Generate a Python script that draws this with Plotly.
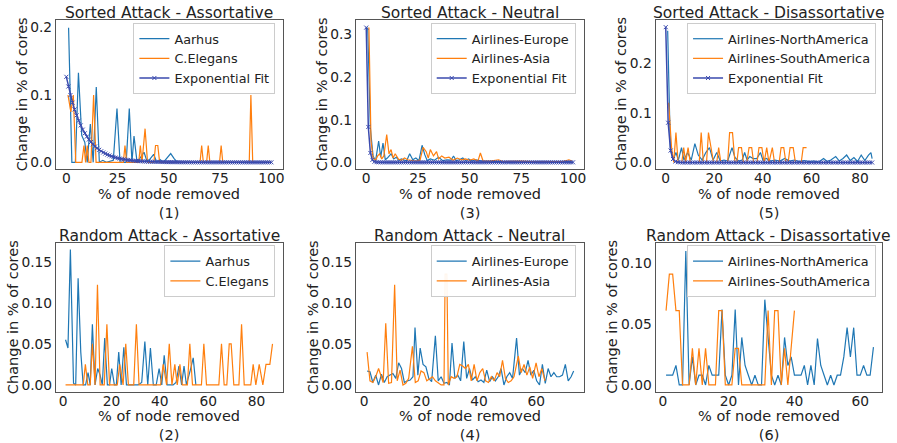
import plotly.graph_objects as go

# ---------------- data ----------------
# Panel (1): Sorted attack - assortative
aarhus_sorted = [(1.1, 0.2), (2.7, 0.0), (4.4, 0.0), (5.9, 0.133), (7.5, 0.04), (9.0, 0.03), (10.2, 0.0),
                 (11.7, 0.057), (13.1, 0.0), (14.6, 0.112), (16.1, 0.0), (17.8, 0.003), (19.5, 0.0),
                 (22.9, 0.003), (24.7, 0.08), (26.2, 0.0), (29.2, 0.0), (30.7, 0.08), (32.0, 0.0),
                 (33.0, 0.039), (34.5, 0.0), (36.1, 0.008), (37.9, 0.015), (39.5, 0.0), (42.6, 0.012),
                 (44.1, 0.0), (45.7, 0.004), (47.3, 0.0), (50.9, 0.013), (52.5, 0.006), (54.1, 0.0), (99.0, 0.0)]
elegans_sorted = [(0.8, 0.1), (2.2, 0.075), (3.4, 0.1), (4.6, 0.0), (7.6, 0.0), (8.6, 0.025), (9.4, 0.0),
                  (10.2, 0.025), (11.0, 0.0), (12.0, 0.0), (13.3, 0.1), (14.5, 0.0), (27.8, 0.0), (28.6, 0.025),
                  (29.4, 0.0), (35.3, 0.0), (36.1, 0.025), (36.9, 0.0), (38.4, 0.05), (39.6, 0.0), (42.7, 0.0),
                  (43.5, 0.025), (44.6, 0.025), (45.5, 0.0), (65.2, 0.0), (66.0, 0.025), (66.8, 0.0), (68.4, 0.0),
                  (69.2, 0.025), (70.0, 0.0), (74.7, 0.0), (75.5, 0.025), (76.3, 0.0), (89.2, 0.0), (90.0, 0.1),
                  (90.9, 0.0), (100.0, 0.0)]
fit_assort_x = list(range(0, 101))
fit_assort_y = [0.1270, 0.1126, 0.0999, 0.0886, 0.0786, 0.0697, 0.0618, 0.0548, 0.0486, 0.0431,
                0.0382, 0.0339, 0.0301, 0.0267, 0.0236, 0.0210, 0.0186, 0.0165, 0.0146, 0.0130,
                0.0115, 0.0102, 0.0090, 0.0080, 0.0071, 0.0063, 0.0056, 0.0050, 0.0044, 0.0039,
                0.0035, 0.0031, 0.0027, 0.0024, 0.0021, 0.0019, 0.0017, 0.0015, 0.0013, 0.0012,
                0.0010, 0.0009, 0.0008, 0.0007, 0.0006, 0.0006, 0.0005, 0.0004, 0.0004, 0.0003,
                0.0003, 0.0003, 0.0002, 0.0002, 0.0002, 0.0002, 0.0001, 0.0001, 0.0001, 0.0001,
                0.0001, 0, 0, 0, 0, 0, 0, 0, 0, 0,
                0, 0, 0, 0, 0, 0, 0, 0, 0, 0,
                0, 0, 0, 0, 0, 0, 0, 0, 0, 0,
                0, 0, 0, 0, 0, 0, 0, 0, 0, 0,
                0]

# Panel (3): Sorted attack - neutral
europe_sorted = [(0.7, 0.316), (2.0, 0.08), (3.3, 0.015), (4.5, 0.003), (6.0, 0.05), (7.0, 0.012), (8.1, 0.045),
                 (9.2, 0.006), (10.2, 0.01), (12.0, 0.02), (13.3, 0.008), (14.5, 0.012), (15.7, 0.005),
                 (17.0, 0.008), (19.5, 0.003), (21.0, 0.02), (22.5, 0.006), (24.0, 0.01), (25.5, 0.004),
                 (27.0, 0.04), (28.3, 0.018), (29.5, 0.004), (31.0, 0.008), (33.0, 0.005), (35.0, 0.012),
                 (37.0, 0.004), (39.0, 0.006), (41.0, 0.005), (42.2, 0.015), (43.5, 0.004), (45.0, 0.006),
                 (46.7, 0.01), (48.0, 0.004), (49.5, 0.008), (51.0, 0.003), (53.0, 0.006), (56.0, 0.003),
                 (60.0, 0.002), (65.0, 0.002), (70.0, 0.001), (75.0, 0.002), (80.0, 0.001), (85.0, 0.002),
                 (90.0, 0.001), (95.0, 0.002), (99.0, 0.002)]
asia_sorted = [(1.3, 0.316), (2.3, 0.05), (3.3, 0.01), (4.5, 0.005), (5.5, 0.015), (6.5, 0.02), (7.5, 0.008),
               (8.5, 0.015), (9.9, 0.065), (11.0, 0.02), (12.0, 0.03), (13.0, 0.01), (14.0, 0.02), (15.5, 0.008),
               (17.0, 0.005), (18.5, 0.01), (20.0, 0.006), (22.0, 0.004), (24.0, 0.003), (26.0, 0.005),
               (27.5, 0.035), (29.0, 0.025), (30.0, 0.01), (31.0, 0.03), (32.5, 0.015), (34.0, 0.025),
               (35.0, 0.008), (36.5, 0.015), (38.0, 0.01), (40.0, 0.012), (42.0, 0.005), (44.0, 0.01),
               (46.0, 0.006), (48.0, 0.008), (50.0, 0.005), (52.0, 0.008), (54.0, 0.003), (55.2, 0.022),
               (56.5, 0.003), (60.0, 0.003), (64.0, 0.006), (66.0, 0.002), (70.0, 0.003), (75.0, 0.003),
               (80.0, 0.002), (85.0, 0.002), (90.0, 0.003), (95.0, 0.002), (98.0, 0.006), (99.5, 0.003)]
fit_neutral_x = list(range(0, 101))
fit_neutral_y = [0.316, 0.083, 0.022, 0.0058, 0.0015, 0.0004, 0.0001, 0, 0, 0,
                 0, 0, 0, 0, 0, 0, 0, 0, 0, 0,
                 0, 0, 0, 0, 0, 0, 0, 0, 0, 0,
                 0, 0, 0, 0, 0, 0, 0, 0, 0, 0,
                 0, 0, 0, 0, 0, 0, 0, 0, 0, 0,
                 0, 0, 0, 0, 0, 0, 0, 0, 0, 0,
                 0, 0, 0, 0, 0, 0, 0, 0, 0, 0,
                 0, 0, 0, 0, 0, 0, 0, 0, 0, 0,
                 0, 0, 0, 0, 0, 0, 0, 0, 0, 0,
                 0, 0, 0, 0, 0, 0, 0, 0, 0, 0,
                 0]

# Panel (5): Sorted attack - disassortative
namerica_sorted = [(0.8, 0.265), (1.9, 0.03), (3.0, 0.005), (4.2, 0.02), (5.2, 0.005), (6.5, 0.03), (7.5, 0.005),
                   (9.0, 0.02), (10.5, 0.005), (12.0, 0.038), (13.4, 0.015), (15.0, 0.005), (16.5, 0.02),
                   (18.0, 0.03), (19.5, 0.005), (21.0, 0.02), (22.5, 0.003), (24.0, 0.005), (25.5, 0.003),
                   (27.3, 0.03), (28.5, 0.01), (30.0, 0.003), (31.5, 0.005), (32.5, 0.02), (33.5, 0.005),
                   (34.6, 0.012), (36.0, 0.008), (37.5, 0.008), (39.0, 0.02), (40.0, 0.005), (41.5, 0.008),
                   (43.0, 0.003), (45.0, 0.005), (47.0, 0.003), (49.0, 0.008), (51.0, 0.003), (53.0, 0.005),
                   (55.0, 0.002), (57.0, 0.004), (59.0, 0.002), (61.0, 0.003), (63.0, 0.001), (65.0, 0.008),
                   (66.5, 0.002), (68.0, 0.005), (70.0, 0.012), (71.5, 0.003), (73.0, 0.008), (74.5, 0.015),
                   (76.0, 0.004), (77.5, 0.01), (79.0, 0.002), (80.5, 0.015), (82.0, 0.004), (83.5, 0.015),
                   (84.5, 0.02), (85.0, 0.008)]
samerica_sorted = [(1.2, 0.12), (2.4, 0.03), (3.3, 0.0), (4.2, 0.06), (5.1, 0.0), (6.6, 0.0), (7.4, 0.03),
                   (8.2, 0.0), (9.2, 0.03), (10.1, 0.0), (13.8, 0.0), (14.6, 0.06), (15.5, 0.0), (16.8, 0.0),
                   (17.6, 0.06), (18.8, 0.03), (19.7, 0.0), (21.0, 0.0), (21.8, 0.03), (22.7, 0.0), (25.5, 0.0),
                   (26.3, 0.06), (27.5, 0.06), (28.5, 0.0), (29.3, 0.0), (30.0, 0.03), (31.2, 0.03), (32.0, 0.0),
                   (33.4, 0.0), (34.3, 0.03), (35.4, 0.03), (36.2, 0.0), (37.6, 0.0), (38.4, 0.03), (39.6, 0.03),
                   (40.5, 0.0), (41.6, 0.03), (42.5, 0.0), (43.9, 0.03), (44.8, 0.0), (46.7, 0.0), (47.5, 0.03),
                   (48.6, 0.03), (49.5, 0.0), (50.4, 0.0), (51.2, 0.03), (52.5, 0.03), (53.4, 0.0), (55.8, 0.0),
                   (56.6, 0.03), (58.0, 0.03)]
fit_disassort_x = list(range(0, 86))
fit_disassort_y = [0.272, 0.080, 0.024, 0.007, 0.002, 0.0006, 0.0002, 0, 0, 0,
                   0, 0, 0, 0, 0, 0, 0, 0, 0, 0,
                   0, 0, 0, 0, 0, 0, 0, 0, 0, 0,
                   0, 0, 0, 0, 0, 0, 0, 0, 0, 0,
                   0, 0, 0, 0, 0, 0, 0, 0, 0, 0,
                   0, 0, 0, 0, 0, 0, 0, 0, 0, 0,
                   0, 0, 0, 0, 0, 0, 0, 0, 0, 0,
                   0, 0, 0, 0, 0, 0, 0, 0, 0, 0,
                   0, 0, 0, 0, 0, 0]

# Panel (2): Random attack - assortative
aarhus_random = [(1.0, 0.055), (2.0, 0.045), (3.0, 0.165), (4.3, 0.002), (5.2, 0.0), (6.2, 0.13), (7.3, 0.04),
                 (8.3, 0.0), (9.3, 0.0), (10.3, 0.015), (11.2, 0.0), (12.1, 0.074), (13.2, 0.0), (14.3, 0.02),
                 (15.3, 0.012), (16.2, 0.0), (17.2, 0.057), (18.3, 0.0), (19.2, 0.0), (20.1, 0.02), (21.2, 0.0),
                 (22.0, 0.0), (23.0, 0.04), (24.0, 0.0), (25.1, 0.046), (26.2, 0.0), (27.5, 0.0), (29.0, 0.0),
                 (31.0, 0.0), (32.5, 0.003), (33.8, 0.053), (35.0, 0.0), (36.1, 0.045), (37.3, 0.0), (38.5, 0.0),
                 (39.7, 0.02), (40.8, 0.0), (41.8, 0.036), (43.0, 0.0), (45.5, 0.0), (46.7, 0.003), (47.9, 0.023),
                 (49.0, 0.0), (50.0, 0.023), (51.0, 0.0), (52.6, 0.018), (53.8, 0.033), (54.9, 0.0)]
elegans_random = [(1.0, 0.0), (8.3, 0.0), (9.2, 0.025), (10.2, 0.0), (11.2, 0.0), (12.1, 0.05), (13.2, 0.0),
                  (14.2, 0.122), (15.3, 0.0), (17.0, 0.0), (18.1, 0.074), (19.2, 0.0), (22.4, 0.0), (23.4, 0.025),
                  (24.8, 0.0), (25.9, 0.05), (27.0, 0.0), (29.2, 0.0), (30.3, 0.074), (31.4, 0.0), (40.3, 0.0),
                  (41.4, 0.025), (42.8, 0.0), (43.9, 0.05), (45.0, 0.0), (46.2, 0.025), (47.2, 0.0), (48.3, 0.025),
                  (49.3, 0.0), (51.4, 0.0), (52.4, 0.05), (53.5, 0.0), (57.2, 0.0), (58.2, 0.05), (59.3, 0.0),
                  (64.4, 0.0), (65.5, 0.05), (66.6, 0.0), (67.7, 0.0), (68.7, 0.05), (69.5, 0.05), (70.6, 0.0),
                  (72.7, 0.0), (73.8, 0.074), (74.9, 0.0), (77.6, 0.0), (78.6, 0.025), (79.7, 0.0), (81.1, 0.025),
                  (82.6, 0.0), (83.9, 0.025), (85.5, 0.025), (86.6, 0.05)]

# Panel (4): Random attack - neutral
europe_random = [(1, 0.017), (2, 0.016), (3, 0.003), (4, 0.012), (5, 0.0), (6, 0.013), (7, 0.003), (8, 0.010),
                 (9, 0.012), (10, 0.014), (11, 0.008), (12, 0.027), (13, 0.020), (14, 0.003), (15, 0.005),
                 (16, 0.006), (17, 0.010), (17.7, 0.070), (18.7, 0.012), (19.5, 0.045), (20.5, 0.025),
                 (21.5, 0.022), (22.5, 0.008), (23.5, 0.004), (24.8, 0.060), (25.8, 0.005), (26.8, 0.010),
                 (27.8, 0.002), (28.8, 0.003), (29.7, 0.0), (30.6, 0.051), (31.6, 0.008), (32.6, 0.012),
                 (33.6, 0.005), (34.7, 0.053), (35.7, 0.008), (36.7, 0.020), (37.7, 0.006), (38.7, 0.010),
                 (39.7, 0.004), (40.7, 0.006), (41.7, 0.003), (42.7, 0.018), (43.7, 0.004), (44.7, 0.010),
                 (45.7, 0.005), (46.7, 0.010), (47.7, 0.020), (48.7, 0.0), (49.7, 0.010), (50.7, 0.015),
                 (51.7, 0.008), (53.1, 0.057), (54.1, 0.012), (55.1, 0.020), (56.1, 0.015), (57.1, 0.030),
                 (58.1, 0.012), (59.1, 0.018), (60.1, 0.005), (61.1, 0.0), (62.1, 0.025), (63.1, 0.002),
                 (64.1, 0.020), (65.1, 0.010), (66.1, 0.015), (67.1, 0.010), (68.1, 0.010), (69.1, 0.012),
                 (70.1, 0.025), (71.1, 0.005), (72.1, 0.010), (73.0, 0.017)]
asia_random = [(1, 0.04), (2, 0.005), (3, 0.003), (4, 0.01), (5, 0.02), (5.8, 0.01), (6.6, 0.003), (7.5, 0.075),
               (8.5, 0.002), (9.5, 0.003), (10.6, 0.122), (11.5, 0.005), (12.5, 0.018), (13.5, 0.0), (14.5, 0.002),
               (15.5, 0.008), (16.8, 0.047), (17.8, 0.003), (18.8, 0.005), (19.8, 0.017), (20.8, 0.015),
               (21.8, 0.005), (22.8, 0.008), (23.8, 0.01), (24.8, 0.005), (25.8, 0.002), (26.8, 0.0), (27.8, 0.0),
               (28.2, 0.135), (28.8, 0.135), (29.3, 0.0), (30.3, 0.01), (31.3, 0.008), (32.3, 0.01), (33.3, 0.025),
               (34.3, 0.023), (35.3, 0.02), (36.3, 0.025), (37.3, 0.005), (38.3, 0.025), (39.3, 0.005),
               (40.3, 0.015), (41.3, 0.02), (42.3, 0.005), (43.3, 0.003), (44.3, 0.01), (45.3, 0.005),
               (46.3, 0.015), (47.2, 0.01), (48.2, 0.03), (49.2, 0.008), (50.2, 0.003), (51.2, 0.005),
               (52.2, 0.01), (53.7, 0.035), (54.7, 0.015), (55.7, 0.025), (56.7, 0.012), (57.7, 0.022),
               (58.7, 0.008), (59.9, 0.027), (60.9, 0.01), (61.9, 0.02), (63.0, 0.005)]

# Panel (6): Random attack - disassortative
namerica_random = [(1, 0.008), (2, 0.008), (3, 0.008), (4, 0.016), (5, 0.0), (6, 0.0), (7, 0.11), (8, 0.0),
                   (9, 0.023), (10, 0.0), (11, 0.008), (12, 0.008), (13, 0.0), (14, 0.016), (15, 0.008),
                   (16, 0.008), (17, 0.008), (18, 0.062), (19, 0.008), (20, 0.0), (21, 0.008), (22, 0.062),
                   (23, 0.0), (24, 0.039), (25, 0.016), (26, 0.008), (27, 0.0), (28, 0.008), (29, 0.0), (30, 0.0),
                   (31, 0.07), (32, 0.039), (33, 0.008), (34, 0.0), (35, 0.008), (36, 0.0), (37, 0.039),
                   (38, 0.016), (39, 0.023), (40, 0.008), (41, 0.008), (42, 0.008), (43, 0.016), (44, 0.0),
                   (45, 0.016), (46, 0.0), (47, 0.038), (48, 0.016), (49, 0.008), (50, 0.0), (51, 0.008),
                   (52, 0.0), (53, 0.008), (54, 0.008), (55, 0.023), (56, 0.047), (57, 0.023), (58, 0.047),
                   (59, 0.008), (60, 0.008), (61, 0.016), (62, 0.008), (63, 0.008), (64, 0.031)]
samerica_random = [(1, 0.061), (2, 0.091), (3, 0.091), (4, 0.061), (5, 0.061), (6, 0.0), (7, 0.0), (8, 0.0),
                   (9, 0.030), (10, 0.0), (11, 0.030), (12, 0.0), (13, 0.030), (14, 0.0), (15, 0.0), (16, 0.0),
                   (17, 0.061), (18, 0.061), (19, 0.0), (20, 0.0), (21, 0.0), (22, 0.030), (23, 0.030), (24, 0.0),
                   (25, 0.0), (26, 0.0), (27, 0.0), (28, 0.0), (29, 0.0), (30, 0.0), (31, 0.0), (32, 0.061),
                   (33, 0.0), (34, 0.061), (35, 0.061), (36, 0.0), (37, 0.030), (38, 0.0), (39, 0.030), (40, 0.061)]

titles = ["Sorted Attack - Assortative", "Sorted Attack - Neutral", "Sorted Attack - Disassortative",
          "Random Attack - Assortative", "Random Attack - Neutral", "Random Attack - Disassortative"]
panel_tags = ["(1)", "(3)", "(5)", "(2)", "(4)", "(6)"]
x_label = "% of node removed"
y_label = "Change in % of cores"

# ---------------- style ----------------
W, H = 897, 443
BLUE = "#1f77b4"
ORANGE = "#ff7f0e"
FIT = "#3a4aae"
FONT = "DejaVu Sans"
TXT = "#222222"

cols = [(56, 283.3), (356.7, 585.3), (657, 884.3)]
rows = [(20, 169.5), (244, 393.3)]

panels = [
    dict(row=0, col=0, xr=[-5.1, 105.5], yr=[-0.0095, 0.2115], xt=[0, 25, 50, 75, 100], yt=[0, 0.1, 0.2], fmt=".1f",
         series=[(aarhus_sorted, "Aarhus", BLUE), (elegans_sorted, "C.Elegans", ORANGE)],
         fit=(fit_assort_x, fit_assort_y), leg=(276, 23)),
    dict(row=0, col=1, xr=[-5.0, 105.3], yr=[-0.015, 0.334], xt=[0, 25, 50, 75, 100], yt=[0, 0.1, 0.2, 0.3], fmt=".1f",
         series=[(europe_sorted, "Airlines-Europe", BLUE), (asia_sorted, "Airlines-Asia", ORANGE)],
         fit=(fit_neutral_x, fit_neutral_y), leg=(577, 23)),
    dict(row=0, col=2, xr=[-4.2, 89.2], yr=[-0.0125, 0.2866], xt=[0, 20, 40, 60, 80], yt=[0, 0.1, 0.2], fmt=".1f",
         series=[(namerica_sorted, "Airlines-NorthAmerica", BLUE), (samerica_sorted, "Airlines-SouthAmerica", ORANGE)],
         fit=(fit_disassort_x, fit_disassort_y), leg=(878, 23)),
    dict(row=1, col=0, xr=[-3.0, 90.8], yr=[-0.008, 0.173], xt=[0, 20, 40, 60, 80], yt=[0, 0.05, 0.10, 0.15], fmt=".2f",
         series=[(aarhus_random, "Aarhus", BLUE), (elegans_random, "C.Elegans", ORANGE)],
         fit=None, leg=(276, 246.5)),
    dict(row=1, col=1, xr=[-2.9, 76.6], yr=[-0.008, 0.173], xt=[0, 20, 40, 60], yt=[0, 0.05, 0.10, 0.15], fmt=".2f",
         series=[(europe_random, "Airlines-Europe", BLUE), (asia_random, "Airlines-Asia", ORANGE)],
         fit=None, leg=(577, 246.5)),
    dict(row=1, col=2, xr=[-2.2, 66.7], yr=[-0.0054, 0.1166], xt=[0, 20, 40, 60], yt=[0, 0.05, 0.10], fmt=".2f",
         series=[(namerica_random, "Airlines-NorthAmerica", BLUE), (samerica_random, "Airlines-SouthAmerica", ORANGE)],
         fit=None, leg=(878, 246.5)),
]

fig = go.Figure()
layout = dict(width=W, height=H, margin=dict(l=0, r=0, t=0, b=0), paper_bgcolor="white", plot_bgcolor="white",
              font=dict(family=FONT, color=TXT, size=13.8), showlegend=True)
annotations = []

for i, p in enumerate(panels):
    n = i + 1
    sfx = "" if n == 1 else str(n)
    x0, x1 = cols[p["col"]]
    top, bot = rows[p["row"]]
    xdom = [x0 / W, x1 / W]
    ydom = [1 - bot / H, 1 - top / H]
    legname = "legend" if n == 1 else "legend%d" % n
    for pts, name, color in p["series"]:
        fig.add_trace(go.Scatter(x=[a for a, b in pts], y=[b for a, b in pts], mode="lines", name=name,
                                 line=dict(color=color, width=1.2), xaxis="x" + sfx, yaxis="y" + sfx,
                                 legend=legname))
    if p["fit"] is not None:
        fx, fy = p["fit"]
        fig.add_trace(go.Scatter(x=fx, y=fy, mode="lines+markers", name="Exponential Fit",
                                 line=dict(color=FIT, width=1.5),
                                 marker=dict(symbol="x-thin", size=4, line=dict(width=1, color=FIT)),
                                 xaxis="x" + sfx, yaxis="y" + sfx, legend=legname))
    ax = dict(domain=xdom, range=p["xr"], tickvals=p["xt"], showgrid=False, zeroline=False, showline=True,
              mirror=True, linecolor="#555555", linewidth=1, ticks="", ticklabelstandoff=-3,
              tickfont=dict(size=13.8, color=TXT), anchor="y" + sfx)
    ay = dict(domain=ydom, range=p["yr"], tickvals=p["yt"], tickformat=p["fmt"], showgrid=False, zeroline=False,
              showline=True, mirror=True, linecolor="#555555", linewidth=1, ticks="",
              tickfont=dict(size=13.8, color=TXT), anchor="x" + sfx)
    layout["xaxis" + sfx] = ax
    layout["yaxis" + sfx] = ay
    lx, ly = p["leg"]
    layout[legname] = dict(x=lx / W, y=1 - ly / H, xanchor="right", yanchor="top", bgcolor="rgba(255,255,255,0.92)",
                           bordercolor="#cccccc", borderwidth=1, font=dict(size=12.8, color=TXT))
    xc = (x0 + x1) / 2 / W
    annotations.append(dict(text=titles[i], x=xc, y=1 - top / H, xref="paper", yref="paper", xanchor="center",
                            yanchor="bottom", yshift=-4, showarrow=False, font=dict(size=15.5, color=TXT)))
    annotations.append(dict(text=x_label + "<br>" + panel_tags[i], x=xc, y=1 - (bot + 15) / H, xref="paper",
                            yref="paper", xanchor="center", yanchor="top", showarrow=False,
                            font=dict(size=14.5, color=TXT)))
    ylx = x0 - (34 if p["row"] == 0 else 43)
    annotations.append(dict(text=y_label, x=ylx / W, y=1 - (top + bot) / 2 / H, xref="paper", yref="paper",
                            xanchor="center", yanchor="middle", textangle=-90, showarrow=False,
                            font=dict(size=14.5, color=TXT)))

layout["annotations"] = annotations
fig.update_layout(**layout)
fig.write_html("out.html")
